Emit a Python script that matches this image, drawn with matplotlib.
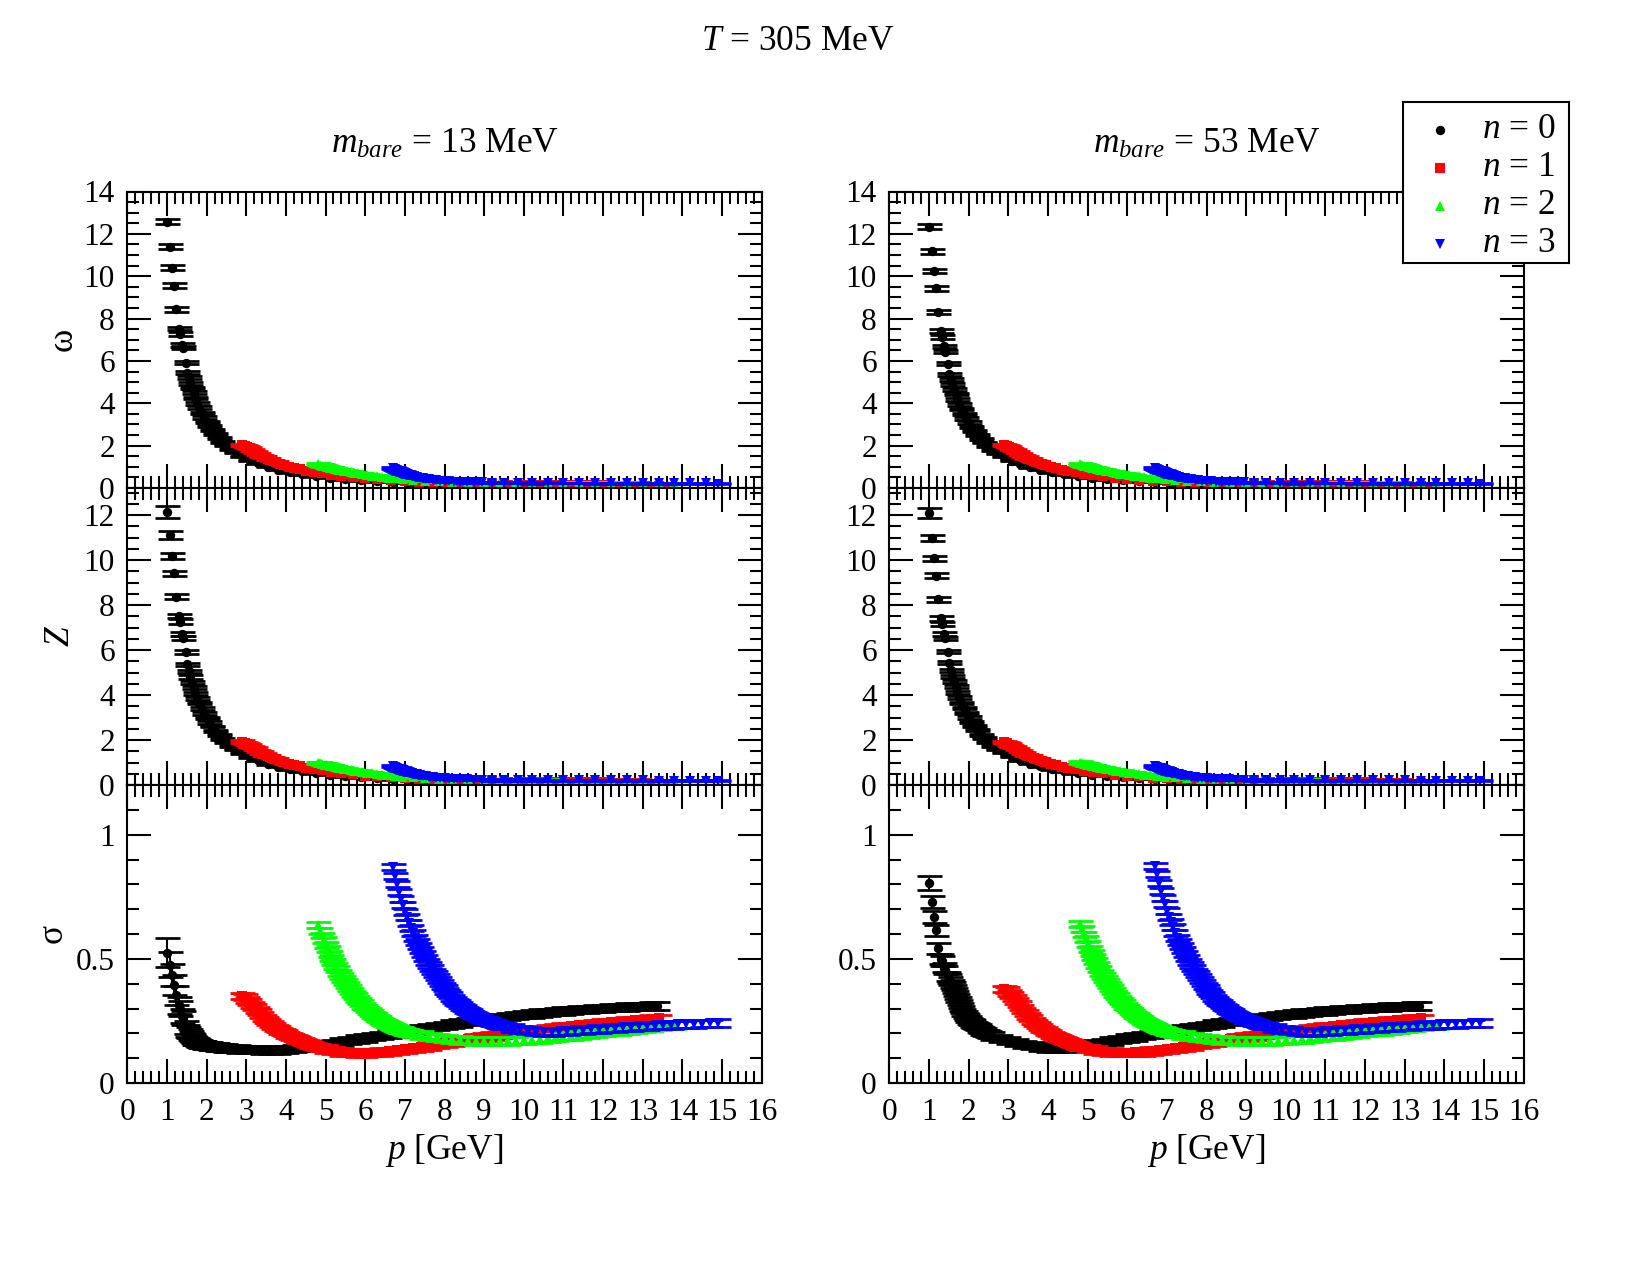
import matplotlib
matplotlib.use("Agg")
import matplotlib.pyplot as plt
from matplotlib.ticker import MultipleLocator, FuncFormatter

plt.rcParams['font.family'] = ['Liberation Serif', 'DejaVu Serif']
plt.rcParams['mathtext.fontset'] = 'custom'
plt.rcParams['mathtext.rm'] = 'Liberation Serif'
plt.rcParams['mathtext.it'] = 'Liberation Serif:italic'
plt.rcParams['mathtext.bf'] = 'Liberation Serif:bold'

# ---------------- data ----------------
SERIES = ['$n$ = 0', '$n$ = 1', '$n$ = 2', '$n$ = 3']
MASSES = ['13', '53']

# momenta p [GeV] of the points read in the omega and Z panels
PW0 = [1.01, 1.075, 1.12, 1.18, 1.24, 1.31, 1.33, 1.39, 1.41, 1.48,
       1.51, 1.55, 1.59, 1.63, 1.67, 1.72, 1.77, 1.82, 1.88, 1.94,
       2.0, 2.07, 2.14, 2.22, 2.31, 2.4, 2.5, 2.62, 2.75, 2.9,
       3.1, 3.3, 3.55, 3.8, 4.1, 4.4, 4.75, 5.1, 5.5, 5.9,
       6.3, 6.7, 7.1, 7.5, 7.9, 8.3, 8.7, 9.1, 9.5, 9.9,
       10.3, 10.7, 11.1, 11.5, 11.9, 12.3, 12.7, 13.05, 13.35]
PW1 = [2.9, 2.96, 3.02, 3.08, 3.15, 3.22, 3.3, 3.38, 3.46, 3.55,
       3.64, 3.74, 3.84, 3.95, 4.07, 4.2, 4.35, 4.5, 4.7, 4.9,
       5.15, 5.4, 5.7, 6.0, 6.3, 6.65, 7.0, 7.35, 7.7, 8.05,
       8.4, 8.8, 9.2, 9.6, 10.0, 10.4, 10.8, 11.2, 11.6, 12.0,
       12.4, 12.8, 13.1, 13.4]
PW2 = [4.8, 4.86, 4.92, 4.98, 5.04, 5.1, 5.17, 5.24, 5.31, 5.39,
       5.47, 5.55, 5.64, 5.73, 5.83, 5.93, 6.04, 6.16, 6.29, 6.43,
       6.58, 6.75, 6.95, 7.2, 7.5, 7.85, 8.2, 8.6, 9.0, 9.4,
       9.8, 10.2, 10.6, 11.0, 11.4, 11.8, 12.2, 12.6, 13.0, 13.4,
       13.8]
PW3 = [6.7, 6.75, 6.8, 6.85, 6.9, 6.95, 7.0, 7.06, 7.12, 7.18,
       7.24, 7.31, 7.38, 7.45, 7.53, 7.61, 7.7, 7.79, 7.89, 8.0,
       8.12, 8.25, 8.4, 8.56, 8.74, 8.95, 9.2, 9.5, 9.85, 10.2,
       10.6, 11.0, 11.4, 11.8, 12.2, 12.6, 13.0, 13.4, 13.8, 14.2,
       14.6, 14.9]

# momenta p [GeV] of the points read in the sigma panels (denser reading)
PS0 = [1.01, 1.075, 1.12, 1.18, 1.24, 1.31, 1.33, 1.39, 1.41, 1.48, 1.51,
       1.54, 1.57, 1.6, 1.63, 1.66, 1.69, 1.72, 1.75, 1.78, 1.81, 1.84, 1.87, 1.9, 1.93,
       1.96, 2.0, 2.04, 2.08, 2.12, 2.16, 2.2, 2.25, 2.3, 2.35, 2.4, 2.46, 2.52,
       2.6, 2.8, 3.0, 3.2, 3.4, 3.6, 3.8, 4.0, 4.2, 4.4, 4.6, 4.8, 5.0, 5.2, 5.4, 5.6,
       5.8, 6.0, 6.2, 6.4, 6.6, 6.8, 7.0, 7.2, 7.4, 7.6, 7.8, 8.0, 8.2, 8.4, 8.6, 8.8,
       9.0, 9.2, 9.4, 9.6, 9.8, 10.0, 10.2, 10.4, 10.6, 10.8, 11.0, 11.2, 11.4, 11.6,
       11.8, 12.0, 12.2, 12.4, 12.6, 12.8, 13.0, 13.2, 13.35]
PS1 = [2.9, 2.96, 3.02, 3.08, 3.14, 3.2, 3.26, 3.32, 3.38, 3.44, 3.5, 3.56, 3.62,
       3.68, 3.74, 3.8, 3.86, 3.92, 3.98, 4.04, 4.1, 4.16, 4.22, 4.28, 4.34, 4.4,
       4.46, 4.52, 4.58, 4.64, 4.7, 4.76, 4.82, 4.88,
       5.0, 5.2, 5.4, 5.6, 5.8, 6.0, 6.2, 6.4, 6.6, 6.8, 7.0, 7.2, 7.4, 7.6, 7.8,
       8.0, 8.2, 8.4, 8.6, 8.8, 9.0, 9.2, 9.4, 9.6, 9.8, 10.0, 10.2, 10.4, 10.6,
       10.8, 11.0, 11.2, 11.4, 11.6, 11.8, 12.0, 12.2, 12.4, 12.6, 12.8, 13.0,
       13.2, 13.4]
PS2 = [4.8, 4.85, 4.9, 4.95, 5.0, 5.05, 5.1, 5.15, 5.2, 5.25, 5.3, 5.35, 5.4,
       5.45, 5.5, 5.55, 5.6, 5.65, 5.7, 5.75, 5.8, 5.85, 5.9, 5.95, 6.0, 6.05,
       6.1, 6.15, 6.2, 6.25, 6.3, 6.35, 6.4, 6.45, 6.5, 6.55, 6.6, 6.65, 6.7,
       6.75, 6.8, 6.85, 6.9, 6.95, 7.0, 7.05, 7.1, 7.15, 7.2,
       7.4, 7.6, 7.8, 8.0, 8.2, 8.4, 8.6, 8.8, 9.0, 9.2, 9.4, 9.6, 9.8, 10.0,
       10.2, 10.4, 10.6, 10.8, 11.0, 11.2, 11.4, 11.6, 11.8, 12.0, 12.2, 12.4,
       12.6, 12.8, 13.0, 13.2, 13.4, 13.6, 13.8]
PS3 = [6.7, 6.75, 6.8, 6.85, 6.9, 6.95, 7.0, 7.05, 7.1, 7.15, 7.2, 7.25, 7.3,
       7.35, 7.4, 7.45, 7.5, 7.55, 7.6, 7.65, 7.7, 7.75, 7.8, 7.85, 7.9, 7.95,
       8.0, 8.05, 8.1, 8.15, 8.2, 8.25, 8.3, 8.35, 8.4, 8.45, 8.5, 8.55, 8.6,
       8.65, 8.7, 8.75, 8.8, 8.85, 8.9, 8.95, 9.0, 9.05, 9.1, 9.15, 9.2, 9.25,
       9.3, 9.35, 9.4, 9.45, 9.5,
       9.7, 9.9, 10.1, 10.3, 10.5, 10.7, 10.9, 11.1, 11.3, 11.5, 11.7, 11.9,
       12.1, 12.3, 12.5, 12.7, 12.9, 13.1, 13.3, 13.5, 13.7, 13.9, 14.1, 14.3,
       14.5, 14.7, 14.9]

# ---- omega, m_bare = 13 MeV
W13_0 = [12.58, 11.40, 10.41, 9.56, 8.43, 7.53, 7.29, 6.76, 6.63, 5.92,
         5.45, 5.2, 4.95, 4.72, 4.5, 4.25, 4.0, 3.8, 3.55, 3.33,
         3.13, 2.92, 2.74, 2.54, 2.35, 2.18, 2.01, 1.83, 1.66, 1.5,
         1.31, 1.16, 1.0, 0.87, 0.75, 0.65, 0.56, 0.48, 0.42, 0.36,
         0.32, 0.28, 0.25, 0.22, 0.2, 0.18, 0.17, 0.15, 0.14, 0.13,
         0.12, 0.11, 0.1, 0.095, 0.09, 0.083, 0.078, 0.074, 0.07]
W13_1 = [2.05, 1.99, 1.93, 1.87, 1.8, 1.72, 1.62, 1.53, 1.45, 1.37,
         1.3, 1.22, 1.15, 1.08, 1.01, 0.95, 0.88, 0.82, 0.75, 0.69,
         0.62, 0.56, 0.5, 0.45, 0.41, 0.36, 0.32, 0.28, 0.25, 0.22,
         0.2, 0.18, 0.17, 0.16, 0.15, 0.14, 0.135, 0.13, 0.125, 0.12,
         0.117, 0.114, 0.112, 0.11]
W13_2 = [1.12, 1.09, 1.06, 1.02, 0.99, 0.96, 0.93, 0.9, 0.87, 0.84,
         0.81, 0.78, 0.75, 0.72, 0.69, 0.65, 0.62, 0.59, 0.56, 0.52,
         0.49, 0.46, 0.42, 0.38, 0.34, 0.31, 0.29, 0.28, 0.27, 0.265,
         0.26, 0.255, 0.25, 0.25, 0.245, 0.245, 0.24, 0.24, 0.235, 0.235,
         0.23]
W13_3 = [0.93, 0.89, 0.85, 0.81, 0.77, 0.73, 0.69, 0.65, 0.61, 0.58,
         0.55, 0.52, 0.49, 0.46, 0.43, 0.41, 0.39, 0.37, 0.35, 0.33,
         0.31, 0.3, 0.29, 0.28, 0.27, 0.26, 0.255, 0.25, 0.245, 0.24,
         0.24, 0.235, 0.235, 0.23, 0.23, 0.225, 0.225, 0.22, 0.22, 0.215,
         0.215, 0.21]
# ---- Z, m_bare = 13 MeV
Z13_0 = [12.13, 11.11, 10.18, 9.41, 8.36, 7.51, 7.26, 6.70, 6.52, 5.91,
         5.36, 5.05, 4.8, 4.55, 4.33, 4.08, 3.85, 3.63, 3.4, 3.18,
         2.98, 2.78, 2.6, 2.41, 2.22, 2.06, 1.9, 1.73, 1.57, 1.42,
         1.24, 1.09, 0.94, 0.82, 0.7, 0.61, 0.52, 0.45, 0.39, 0.34,
         0.3, 0.26, 0.23, 0.21, 0.19, 0.17, 0.16, 0.14, 0.13, 0.12,
         0.11, 0.1, 0.095, 0.09, 0.085, 0.08, 0.075, 0.07, 0.067]
Z13_1 = [1.93, 1.87, 1.81, 1.76, 1.69, 1.62, 1.52, 1.44, 1.36, 1.29,
         1.22, 1.15, 1.08, 1.02, 0.95, 0.89, 0.83, 0.77, 0.7, 0.65,
         0.58, 0.53, 0.47, 0.42, 0.39, 0.34, 0.3, 0.26, 0.24, 0.21,
         0.19, 0.17, 0.16, 0.15, 0.14, 0.13, 0.127, 0.122, 0.118, 0.113,
         0.11, 0.107, 0.105, 0.103]
Z13_2 = [0.99, 0.97, 0.94, 0.91, 0.88, 0.86, 0.83, 0.8, 0.77, 0.75,
         0.72, 0.69, 0.67, 0.64, 0.61, 0.58, 0.55, 0.52, 0.5, 0.46,
         0.44, 0.41, 0.37, 0.34, 0.3, 0.28, 0.26, 0.25, 0.24, 0.235,
         0.23, 0.228, 0.225, 0.222, 0.22, 0.218, 0.215, 0.213, 0.21, 0.208,
         0.205]
Z13_3 = [0.84, 0.8, 0.77, 0.73, 0.69, 0.66, 0.62, 0.59, 0.55, 0.52,
         0.5, 0.47, 0.44, 0.41, 0.39, 0.37, 0.35, 0.33, 0.32, 0.3,
         0.28, 0.27, 0.26, 0.25, 0.24, 0.235, 0.23, 0.225, 0.22, 0.216,
         0.216, 0.212, 0.212, 0.207, 0.207, 0.203, 0.203, 0.198, 0.198, 0.194,
         0.194, 0.19]
# ---- sigma, m_bare = 13 MeV
S13_0 = [0.524, 0.477, 0.434, 0.396, 0.353, 0.313, 0.30, 0.27, 0.26, 0.225, 0.21,
         0.203, 0.196, 0.19, 0.184, 0.178, 0.173, 0.169, 0.165, 0.162, 0.159,
         0.157, 0.155, 0.154, 0.153, 0.152, 0.151, 0.15, 0.149, 0.148, 0.147,
         0.146, 0.145, 0.144, 0.143, 0.142, 0.141, 0.14,
         0.139, 0.137, 0.135, 0.134, 0.133, 0.132, 0.133, 0.135, 0.138, 0.142,
         0.146, 0.15, 0.155, 0.16, 0.165, 0.171, 0.177, 0.182, 0.187, 0.192,
         0.197, 0.202, 0.207, 0.212, 0.217, 0.222, 0.227, 0.232, 0.237, 0.242,
         0.247, 0.251, 0.255, 0.259, 0.263, 0.267, 0.271, 0.275, 0.278, 0.281,
         0.284, 0.287, 0.29, 0.292, 0.295, 0.297, 0.299, 0.301, 0.303, 0.305,
         0.306, 0.308, 0.309, 0.31, 0.31]
S13_1 = [0.35, 0.345, 0.336, 0.326, 0.316, 0.305, 0.295, 0.284, 0.272, 0.261,
         0.252, 0.244, 0.236, 0.229, 0.222, 0.216, 0.21, 0.205, 0.2, 0.195,
         0.191, 0.186, 0.182, 0.177, 0.173, 0.169, 0.165, 0.161, 0.157, 0.154,
         0.15, 0.147, 0.144, 0.141,
         0.137, 0.13, 0.125, 0.122, 0.121, 0.121, 0.122, 0.124, 0.127, 0.131,
         0.135, 0.139, 0.144, 0.149, 0.154, 0.16, 0.166, 0.171, 0.176, 0.181,
         0.186, 0.19, 0.195, 0.199, 0.203, 0.207, 0.211, 0.214, 0.218, 0.221,
         0.225, 0.228, 0.232, 0.235, 0.238, 0.241, 0.244, 0.247, 0.25, 0.252,
         0.254, 0.257, 0.26]
S13_2 = [0.635, 0.614, 0.594, 0.575, 0.556, 0.538, 0.521, 0.504, 0.488, 0.473,
         0.458, 0.444, 0.43, 0.417, 0.405, 0.393, 0.381, 0.37, 0.359, 0.349,
         0.339, 0.33, 0.321, 0.312, 0.304, 0.296, 0.289, 0.282, 0.275, 0.268,
         0.262, 0.256, 0.251, 0.246, 0.241, 0.236, 0.232, 0.228, 0.224, 0.221,
         0.218, 0.215, 0.212, 0.209, 0.206, 0.204, 0.202, 0.2, 0.198,
         0.193, 0.188, 0.184, 0.18, 0.176, 0.173, 0.171, 0.17, 0.169, 0.169,
         0.169, 0.17, 0.171, 0.173, 0.175, 0.178, 0.181, 0.184, 0.187, 0.19,
         0.193, 0.197, 0.2, 0.204, 0.207, 0.21, 0.214, 0.217, 0.221, 0.224,
         0.228, 0.231, 0.234]
S13_3 = [0.87, 0.835, 0.802, 0.771, 0.742, 0.715, 0.69, 0.667, 0.645, 0.624,
         0.604, 0.585, 0.567, 0.55, 0.534, 0.518, 0.503, 0.489, 0.475, 0.462,
         0.449, 0.437, 0.425, 0.413, 0.402, 0.391, 0.381, 0.371, 0.362, 0.353,
         0.344, 0.336, 0.328, 0.321, 0.314, 0.307, 0.301, 0.295, 0.289, 0.284,
         0.279, 0.274, 0.27, 0.266, 0.262, 0.258, 0.255, 0.252, 0.249, 0.246,
         0.243, 0.24, 0.237, 0.235, 0.232, 0.23, 0.228,
         0.222, 0.216, 0.211, 0.207, 0.205, 0.205, 0.207, 0.209, 0.212, 0.214,
         0.216, 0.218, 0.22, 0.222, 0.224, 0.226, 0.228, 0.23, 0.231, 0.233,
         0.234, 0.236, 0.237, 0.238, 0.239, 0.24, 0.241]

# ---- omega, m_bare = 53 MeV
W53_0 = [12.33, 11.18, 10.24, 9.42, 8.30, 7.42, 7.13, 6.69, 6.44, 5.87,
         5.37, 5.12, 4.88, 4.65, 4.43, 4.19, 3.95, 3.75, 3.5, 3.28,
         3.09, 2.88, 2.7, 2.5, 2.32, 2.15, 1.98, 1.8, 1.64, 1.48,
         1.29, 1.14, 0.98, 0.86, 0.74, 0.64, 0.55, 0.47, 0.41, 0.36,
         0.31, 0.28, 0.25, 0.22, 0.2, 0.18, 0.165, 0.15, 0.14, 0.13,
         0.12, 0.11, 0.1, 0.095, 0.09, 0.083, 0.078, 0.074, 0.07]
W53_1 = [2.04, 1.98, 1.92, 1.86, 1.79, 1.71, 1.61, 1.52, 1.44, 1.36,
         1.29, 1.21, 1.14, 1.07, 1.0, 0.94, 0.87, 0.81, 0.74, 0.68,
         0.61, 0.55, 0.49, 0.44, 0.4, 0.35, 0.31, 0.28, 0.25, 0.22,
         0.2, 0.18, 0.17, 0.16, 0.15, 0.14, 0.135, 0.13, 0.125, 0.12,
         0.117, 0.114, 0.112, 0.11]
W53_2 = [1.13, 1.1, 1.06, 1.03, 1.0, 0.96, 0.93, 0.9, 0.87, 0.84,
         0.81, 0.78, 0.75, 0.72, 0.68, 0.65, 0.62, 0.59, 0.55, 0.52,
         0.49, 0.45, 0.42, 0.38, 0.34, 0.31, 0.29, 0.28, 0.27, 0.265,
         0.26, 0.255, 0.25, 0.25, 0.245, 0.245, 0.24, 0.24, 0.235, 0.235,
         0.23]
W53_3 = [0.94, 0.9, 0.86, 0.82, 0.78, 0.74, 0.7, 0.66, 0.62, 0.59,
         0.56, 0.52, 0.49, 0.46, 0.44, 0.41, 0.39, 0.37, 0.35, 0.33,
         0.31, 0.3, 0.29, 0.28, 0.27, 0.26, 0.255, 0.25, 0.245, 0.24,
         0.24, 0.235, 0.235, 0.23, 0.23, 0.225, 0.225, 0.22, 0.22, 0.215,
         0.215, 0.21]
# ---- Z, m_bare = 53 MeV
Z53_0 = [12.07, 10.99, 10.07, 9.30, 8.25, 7.41, 7.17, 6.70, 6.52, 5.93,
         5.44, 5.1, 4.84, 4.6, 4.37, 4.12, 3.88, 3.66, 3.43, 3.21,
         3.0, 2.8, 2.62, 2.43, 2.24, 2.08, 1.92, 1.75, 1.59, 1.44,
         1.26, 1.1, 0.95, 0.83, 0.71, 0.62, 0.53, 0.46, 0.4, 0.35,
         0.3, 0.27, 0.24, 0.21, 0.19, 0.17, 0.16, 0.14, 0.13, 0.12,
         0.11, 0.1, 0.095, 0.09, 0.085, 0.08, 0.075, 0.07, 0.067]
Z53_1 = [1.92, 1.86, 1.8, 1.75, 1.68, 1.61, 1.51, 1.43, 1.35, 1.28,
         1.21, 1.14, 1.07, 1.01, 0.94, 0.88, 0.82, 0.76, 0.69, 0.64,
         0.57, 0.52, 0.46, 0.41, 0.38, 0.33, 0.29, 0.26, 0.23, 0.21,
         0.19, 0.17, 0.16, 0.15, 0.14, 0.13, 0.127, 0.122, 0.118, 0.113,
         0.11, 0.107, 0.105, 0.103]
Z53_2 = [1.0, 0.97, 0.94, 0.91, 0.89, 0.86, 0.83, 0.8, 0.77, 0.75,
         0.72, 0.69, 0.67, 0.64, 0.61, 0.58, 0.55, 0.52, 0.49, 0.46,
         0.44, 0.41, 0.37, 0.34, 0.3, 0.28, 0.26, 0.25, 0.24, 0.235,
         0.23, 0.228, 0.225, 0.222, 0.22, 0.218, 0.215, 0.213, 0.21, 0.208,
         0.205]
Z53_3 = [0.85, 0.81, 0.77, 0.74, 0.7, 0.66, 0.63, 0.59, 0.56, 0.53,
         0.5, 0.47, 0.44, 0.42, 0.39, 0.37, 0.35, 0.33, 0.32, 0.3,
         0.28, 0.27, 0.26, 0.25, 0.24, 0.235, 0.23, 0.225, 0.22, 0.216,
         0.216, 0.212, 0.212, 0.207, 0.207, 0.203, 0.203, 0.198, 0.198, 0.194,
         0.194, 0.19]
# ---- sigma, m_bare = 53 MeV
S53_0 = [0.805, 0.729, 0.668, 0.615, 0.542, 0.50, 0.49, 0.465, 0.455, 0.43, 0.42,
         0.41, 0.4, 0.39, 0.378, 0.366, 0.354, 0.342, 0.33, 0.318, 0.306,
         0.295, 0.285, 0.276, 0.268, 0.261, 0.254, 0.248, 0.242, 0.237, 0.232,
         0.227, 0.221, 0.215, 0.21, 0.205, 0.2, 0.195,
         0.19, 0.18, 0.171, 0.163, 0.156, 0.15, 0.145, 0.141, 0.139, 0.139,
         0.142, 0.147, 0.152, 0.157, 0.163, 0.169, 0.175, 0.181, 0.186, 0.191,
         0.196, 0.201, 0.206, 0.212, 0.217, 0.222, 0.227, 0.232, 0.237, 0.242,
         0.247, 0.251, 0.255, 0.259, 0.263, 0.267, 0.271, 0.275, 0.278, 0.281,
         0.284, 0.287, 0.29, 0.292, 0.295, 0.297, 0.299, 0.301, 0.303, 0.305,
         0.306, 0.308, 0.309, 0.31, 0.31]
S53_1 = [0.38, 0.373, 0.364, 0.353, 0.341, 0.329, 0.317, 0.304, 0.292, 0.28,
         0.27, 0.26, 0.25, 0.241, 0.233, 0.226, 0.219, 0.212, 0.206, 0.2,
         0.195, 0.19, 0.185, 0.18, 0.176, 0.172, 0.168, 0.164, 0.16, 0.156,
         0.153, 0.149, 0.146, 0.143,
         0.138, 0.132, 0.127, 0.124, 0.122, 0.122, 0.123, 0.125, 0.128, 0.131,
         0.135, 0.139, 0.144, 0.149, 0.154, 0.16, 0.166, 0.171, 0.176, 0.181,
         0.186, 0.19, 0.195, 0.199, 0.203, 0.207, 0.211, 0.214, 0.218, 0.221,
         0.225, 0.228, 0.232, 0.235, 0.238, 0.241, 0.244, 0.247, 0.25, 0.252,
         0.254, 0.257, 0.26]
S53_2 = [0.64, 0.619, 0.598, 0.579, 0.56, 0.541, 0.524, 0.507, 0.491, 0.475,
         0.458, 0.444, 0.43, 0.417, 0.405, 0.393, 0.381, 0.37, 0.359, 0.349,
         0.339, 0.33, 0.321, 0.312, 0.304, 0.296, 0.289, 0.282, 0.275, 0.268,
         0.262, 0.256, 0.251, 0.246, 0.241, 0.236, 0.232, 0.228, 0.224, 0.221,
         0.218, 0.215, 0.212, 0.209, 0.206, 0.204, 0.202, 0.2, 0.198,
         0.193, 0.188, 0.184, 0.18, 0.176, 0.173, 0.171, 0.17, 0.169, 0.169,
         0.169, 0.17, 0.171, 0.173, 0.175, 0.178, 0.181, 0.184, 0.187, 0.19,
         0.193, 0.197, 0.2, 0.204, 0.207, 0.21, 0.214, 0.217, 0.221, 0.224,
         0.228, 0.231, 0.234]
S53_3 = [0.875, 0.84, 0.806, 0.775, 0.746, 0.719, 0.694, 0.67, 0.648, 0.627,
         0.604, 0.585, 0.567, 0.55, 0.534, 0.518, 0.503, 0.489, 0.475, 0.462,
         0.449, 0.437, 0.425, 0.413, 0.402, 0.391, 0.381, 0.371, 0.362, 0.353,
         0.344, 0.336, 0.328, 0.321, 0.314, 0.307, 0.301, 0.295, 0.289, 0.284,
         0.279, 0.274, 0.27, 0.266, 0.262, 0.258, 0.255, 0.252, 0.249, 0.246,
         0.243, 0.24, 0.237, 0.235, 0.232, 0.23, 0.228,
         0.222, 0.216, 0.211, 0.207, 0.205, 0.205, 0.207, 0.209, 0.212, 0.214,
         0.216, 0.218, 0.22, 0.222, 0.224, 0.226, 0.228, 0.23, 0.231, 0.233,
         0.234, 0.236, 0.237, 0.238, 0.239, 0.24, 0.241]

# ---- error bars (half widths)
EW13_0 = [.13, .12, .11, .10, .10, .09, .09, .08, .08, .08,
          .07, .07, .07, .06, .06, .06, .06, .05, .05, .05,
          .05, .05, .04, .04, .04, .04, .04, .04, .03, .03,
          .03, .03, .03, .03, .03, .03, .02, .02, .02, .02,
          .02, .02, .02, .02, .02, .02, .02, .02, .02, .02,
          .02, .02, .02, .02, .02, .02, .02, .02, .02]
EZ13_0 = [.27, .16, .13, .12, .11, .10, .10, .09, .09, .08,
          .08, .07, .07, .07, .06, .06, .06, .05, .05, .05,
          .05, .05, .04, .04, .04, .04, .04, .04, .03, .03,
          .03, .03, .03, .03, .03, .03, .02, .02, .02, .02,
          .02, .02, .02, .02, .02, .02, .02, .02, .02, .02,
          .02, .02, .02, .02, .02, .02, .02, .02, .02]
EW53_0 = [.12, .11, .10, .10, .09, .09, .08, .08, .08, .07,
          .07, .07, .07, .06, .06, .06, .06, .05, .05, .05,
          .05, .05, .04, .04, .04, .04, .04, .04, .03, .03,
          .03, .03, .03, .03, .03, .03, .02, .02, .02, .02,
          .02, .02, .02, .02, .02, .02, .02, .02, .02, .02,
          .02, .02, .02, .02, .02, .02, .02, .02, .02]
EZ53_0 = [.22, .14, .12, .11, .10, .10, .09, .09, .08, .08,
          .08, .07, .07, .07, .06, .06, .06, .05, .05, .05,
          .05, .05, .04, .04, .04, .04, .04, .04, .03, .03,
          .03, .03, .03, .03, .03, .03, .02, .02, .02, .02,
          .02, .02, .02, .02, .02, .02, .02, .02, .02, .02,
          .02, .02, .02, .02, .02, .02, .02, .02, .02]
EW_1 = [.05, .05, .05, .05, .05, .05, .05, .05, .05, .05,
        .04, .04, .04, .04, .04, .04, .04, .04, .04, .04,
        .03, .03, .03, .03, .03, .03, .03, .03, .03, .03,
        .02, .02, .02, .02, .02, .02, .02, .02, .02, .02,
        .02, .02, .02, .02]
EW_2 = [.05, .05, .05, .05, .05, .05, .05, .05, .05, .05,
        .04, .04, .04, .04, .04, .04, .04, .04, .04, .04,
        .03, .03, .03, .03, .03, .03, .03, .03, .03, .03,
        .02, .02, .02, .02, .02, .02, .02, .02, .02, .02,
        .02]
EW_3 = [.05, .05, .05, .05, .05, .05, .05, .05, .05, .05,
        .04, .04, .04, .04, .04, .04, .04, .04, .04, .04,
        .03, .03, .03, .03, .03, .03, .03, .03, .03, .03,
        .02, .02, .02, .02, .02, .02, .02, .02, .02, .02,
        .02, .02]
ES13_0 = [.058, .05, .045, .04, .037, .034, .032, .03, .028, .026, .024,
          .022, .021, .02, .019, .018, .018, .017, .017, .016, .016,
          .016, .015, .015, .015, .015, .015, .015, .015, .015, .015,
          .015, .015, .015, .015, .015, .015, .015,
          .015, .015, .015, .015, .015, .015, .015, .015, .015, .015,
          .015, .015, .015, .015, .015, .015, .015, .015, .015, .015,
          .015, .015, .015, .015, .015, .015, .015, .015, .015, .015,
          .015, .015, .015, .015, .015, .015, .015, .015, .015, .015,
          .015, .015, .015, .015, .015, .015, .015, .015, .015, .015,
          .015, .015, .015, .015, .015]
ES53_0 = [.028, .025, .023, .022, .022, .02, .02, .019, .018, .018, .017,
          .017, .016, .016, .016, .016, .016, .016, .016, .015, .015,
          .015, .015, .015, .015, .015, .015, .015, .015, .015, .015,
          .015, .015, .015, .015, .015, .015, .015,
          .015, .015, .015, .015, .015, .015, .015, .015, .015, .015,
          .015, .015, .015, .015, .015, .015, .015, .015, .015, .015,
          .015, .015, .015, .015, .015, .015, .015, .015, .015, .015,
          .015, .015, .015, .015, .015, .015, .015, .015, .015, .015,
          .015, .015, .015, .015, .015, .015, .015, .015, .015, .015,
          .015, .015, .015, .015, .015]
ES_1 = [.012, .012, .012, .012, .012, .012, .012, .012, .012, .012,
        .012, .012, .012, .012, .012, .012, .012, .012, .012, .012,
        .012, .012, .012, .012, .012, .012, .012, .012, .012, .012,
        .012, .012, .012, .012,
        .015, .015, .015, .015, .015, .015, .015, .015, .015, .015,
        .015, .015, .015, .015, .015, .015, .015, .015, .015, .015,
        .015, .015, .015, .015, .015, .015, .015, .015, .015, .015,
        .015, .015, .015, .015, .015, .015, .015, .015, .015, .015,
        .015, .015, .015]
ES_2 = [.012, .012, .012, .012, .012, .012, .012, .012, .012, .012,
        .012, .012, .012, .012, .012, .012, .012, .012, .012, .012,
        .012, .012, .012, .012, .012, .012, .012, .012, .012, .012,
        .012, .012, .012, .012, .012, .012, .012, .012, .012, .012,
        .012, .012, .012, .012, .012, .012, .012, .012, .012,
        .015, .015, .015, .015, .015, .015, .015, .015, .015, .015,
        .015, .015, .015, .015, .015, .015, .015, .015, .015, .015,
        .015, .015, .015, .015, .015, .015, .015, .015, .015, .015,
        .015, .015, .015]
ES_3 = [.012, .012, .012, .012, .012, .012, .012, .012, .012, .012,
        .012, .012, .012, .012, .012, .012, .012, .012, .012, .012,
        .012, .012, .012, .012, .012, .012, .012, .012, .012, .012,
        .012, .012, .012, .012, .012, .012, .012, .012, .012, .012,
        .012, .012, .012, .012, .012, .012, .012, .012, .012, .012,
        .012, .012, .012, .012, .012, .012, .012,
        .015, .015, .015, .015, .015, .015, .015, .015, .015, .015,
        .015, .015, .015, .015, .015, .015, .015, .015, .015, .015,
        .015, .015, .015, .015, .015, .015, .015]

# ---------------- figure ----------------
PX = [[PW0, PW1, PW2, PW3], [PW0, PW1, PW2, PW3], [PS0, PS1, PS2, PS3]]
DATA = {
    '13': [[W13_0, W13_1, W13_2, W13_3], [Z13_0, Z13_1, Z13_2, Z13_3], [S13_0, S13_1, S13_2, S13_3]],
    '53': [[W53_0, W53_1, W53_2, W53_3], [Z53_0, Z53_1, Z53_2, Z53_3], [S53_0, S53_1, S53_2, S53_3]],
}
ERRS = {
    '13': [[EW13_0, EW_1, EW_2, EW_3], [EZ13_0, EW_1, EW_2, EW_3], [ES13_0, ES_1, ES_2, ES_3]],
    '53': [[EW53_0, EW_1, EW_2, EW_3], [EZ53_0, EW_1, EW_2, EW_3], [ES53_0, ES_1, ES_2, ES_3]],
}
COLORS = ['#000000', '#ff0000', '#00ff00', '#0000ff']
MARKERS = ['o', 's', '^', 'v']

W, H = 1650.0, 1275.0
fig = plt.figure(figsize=(11, 8.5), dpi=150)

COL_X = [127.3, 889.3]
COL_W = 634.4
ROW_TOP = [191.5, 488.0, 785.0]
ROW_BOT = [488.0, 785.0, 1083.0]
YLIM = [(0, 14), (0, 13.2), (0, 1.2)]
YMAJ = [2, 2, 0.5]
YMIN = [0.5, 0.5, 0.1]
YLAB = ['ω', '$Z$', 'σ']
YLAB_X = [-0.1014, -0.106, -0.1177]

fmt = FuncFormatter(lambda v, pos: '%g' % v)

for c, m in enumerate(MASSES):
    for r in range(3):
        hpx = ROW_BOT[r] - ROW_TOP[r]
        rect = [COL_X[c] / W, 1 - ROW_BOT[r] / H, COL_W / W, hpx / H]
        ax = fig.add_axes(rect)
        ax.set_xlim(0, 16)
        ax.set_ylim(*YLIM[r])
        ax.xaxis.set_major_locator(MultipleLocator(1))
        ax.xaxis.set_minor_locator(MultipleLocator(0.2))
        ax.yaxis.set_major_locator(MultipleLocator(YMAJ[r]))
        ax.yaxis.set_minor_locator(MultipleLocator(YMIN[r]))
        ax.yaxis.set_major_formatter(fmt)
        ax.xaxis.set_major_formatter(fmt)
        ax.tick_params(which='both', direction='in', top=True, right=True,
                       labelsize=15, width=1.0)
        ax.tick_params(axis='y', pad=6)
        ax.tick_params(axis='x', pad=7)
        ax.tick_params(which='major', length=11.5)
        ax.tick_params(which='minor', length=5.8)
        if r < 2:
            ax.tick_params(labelbottom=False)
        for s in ax.spines.values():
            s.set_linewidth(1.0)
        for n in range(4):
            ax.errorbar(PX[r][n], DATA[m][r][n], yerr=ERRS[m][r][n], fmt='none',
                        ecolor=COLORS[n], elinewidth=1.0, capsize=6, capthick=1.3)
            ax.plot(PX[r][n], DATA[m][r][n], ls='none', marker=MARKERS[n],
                    color=COLORS[n], ms=4.5, mew=0)
        if c == 0:
            ax.text(YLAB_X[r], 0.5, YLAB[r], transform=ax.transAxes, rotation=90,
                    ha='center', va='center', fontsize=17)
        if r == 2:
            ax.text(0.5, -(1159.0 - ROW_BOT[r]) / hpx, '$p$ [GeV]', transform=ax.transAxes,
                    ha='center', va='baseline', fontsize=17)
    fig.text((COL_X[c] + COL_W / 2) / W, 1 - 152.6 / H,
             '$m_{bare}$ = %s MeV' % m, ha='center', va='baseline', fontsize=17)

fig.text(798 / W, 1 - 49.5 / H, '$T$ = 305 MeV', ha='center', va='baseline', fontsize=17)

# legend box
lx0, lx1, ly0, ly1 = 1402.7, 1569.0, 101.7, 263.3
lax = fig.add_axes([lx0 / W, 1 - ly1 / H, (lx1 - lx0) / W, (ly1 - ly0) / H])
lax.set_zorder(10)
lax.set_xlim(0, 1)
lax.set_ylim(0, 1)
lax.set_xticks([])
lax.set_yticks([])
lax.set_facecolor('white')
for s in lax.spines.values():
    s.set_linewidth(1.0)
rows_px = [130, 168, 206, 244]
for n in range(4):
    yy = (ly1 - rows_px[n]) / (ly1 - ly0)
    lax.plot([0.224], [yy], marker=MARKERS[n], color=COLORS[n], ms=4.5, mew=0, ls='none')
    lax.text(0.477, yy, SERIES[n], ha='left', va='center', fontsize=17)

fig.savefig('out.png', dpi=150)
